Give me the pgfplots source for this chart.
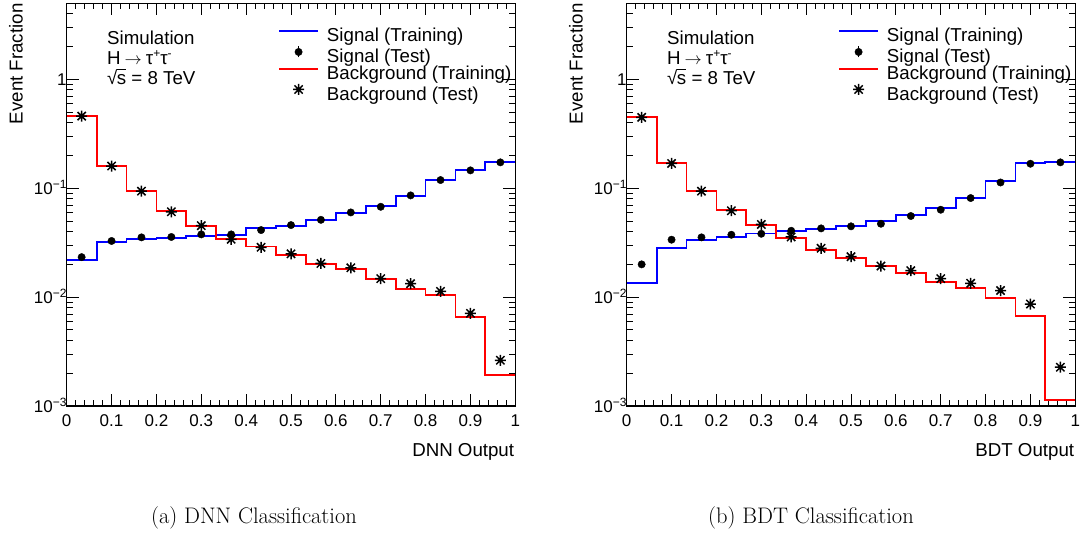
\documentclass[border=0pt]{standalone}
\usepackage{pgfplots}
\pgfplotsset{compat=1.18}
\usepackage{pgfplotstable}
\usepackage{fontspec}
\newfontfamily\rootfont{Liberation Sans}
\newcommand\tickfont{\rootfont\fontsize{17bp}{19bp}\selectfont}
\newcommand\txtfont{\rootfont\fontsize{18.7bp}{20bp}\selectfont}
\newcommand\tsup[1]{\raisebox{6bp}{\fontsize{12bp}{12bp}\selectfont #1}}
\newcommand\tsupt[1]{\raisebox{7bp}{\fontsize{12bp}{12bp}\selectfont #1}}

\pgfdeclareplotmark{rootstar}{%
  \pgfpathmoveto{\pgfqpoint{-\pgfplotmarksize}{0pt}}\pgfpathlineto{\pgfqpoint{\pgfplotmarksize}{0pt}}%
  \pgfpathmoveto{\pgfqpoint{0pt}{-\pgfplotmarksize}}\pgfpathlineto{\pgfqpoint{0pt}{\pgfplotmarksize}}%
  \pgfpathmoveto{\pgfqpoint{-0.75\pgfplotmarksize}{-0.75\pgfplotmarksize}}\pgfpathlineto{\pgfqpoint{0.75\pgfplotmarksize}{0.75\pgfplotmarksize}}%
  \pgfpathmoveto{\pgfqpoint{-0.75\pgfplotmarksize}{0.75\pgfplotmarksize}}\pgfpathlineto{\pgfqpoint{0.75\pgfplotmarksize}{-0.75\pgfplotmarksize}}%
  \pgfusepathqstroke}

\pgfplotstableread{
x sig bkg
0.0000 0.0218 0.46
0.0667 0.0321 0.161
0.1333 0.0344 0.094
0.2000 0.0351 0.0618
0.2667 0.0364 0.0453
0.3333 0.0372 0.0341
0.4000 0.0431 0.0292
0.4667 0.0453 0.0245
0.5333 0.0510 0.0203
0.6000 0.0596 0.0180
0.6667 0.0687 0.0148
0.7333 0.0853 0.0119
0.8000 0.119 0.0105
0.8667 0.148 0.0066
0.9333 0.175 0.00194
1.0000 0.175 0.00194
}\dnnhist

\pgfplotstableread{
x sig bkg
0.0333 0.0233 0.46
0.1000 0.0328 0.160
0.1667 0.0354 0.094
0.2333 0.0357 0.0608
0.3000 0.0377 0.0453
0.3667 0.0377 0.0340
0.4333 0.0413 0.0287
0.5000 0.0459 0.0250
0.5667 0.0513 0.0204
0.6333 0.0600 0.0186
0.7000 0.0676 0.0148
0.7667 0.0860 0.0133
0.8333 0.119 0.0113
0.9000 0.146 0.0071
0.9667 0.173 0.00263
}\dnnpts

\pgfplotstableread{
x sig bkg
0.0000 0.0135 0.454
0.0667 0.0282 0.170
0.1333 0.0334 0.094
0.2000 0.0357 0.063
0.2667 0.0385 0.0462
0.3333 0.0404 0.0351
0.4000 0.0425 0.0271
0.4667 0.0447 0.0227
0.5333 0.0497 0.0193
0.6000 0.0564 0.0166
0.6667 0.0654 0.0138
0.7333 0.0813 0.0121
0.8000 0.116 0.0099
0.8667 0.171 0.0067
0.9333 0.175 0.00114
1.0000 0.175 0.00114
}\bdthist

\pgfplotstableread{
x sig bkg
0.0333 0.0200 0.448
0.1000 0.0337 0.169
0.1667 0.0354 0.094
0.2333 0.0374 0.0622
0.3000 0.0382 0.0465
0.3667 0.0407 0.0357
0.4333 0.0428 0.0281
0.5000 0.0447 0.0235
0.5667 0.0472 0.0193
0.6333 0.0556 0.0175
0.7000 0.0635 0.0148
0.7667 0.0813 0.0134
0.8333 0.113 0.0115
0.9000 0.168 0.00864
0.9667 0.173 0.00227
}\bdtpts

\pgfplotsset{
  rootaxis/.style={
    scale only axis, width=448.6bp, height=402.7bp, anchor=south west,
    xmin=0, xmax=1, ymin=1e-3, ymax=5,
    xtick={0,0.1,0.2,0.3,0.4,0.5,0.6,0.7,0.8,0.9,1},
    xticklabels={0,0.1,0.2,0.3,0.4,0.5,0.6,0.7,0.8,0.9,1},
    minor x tick num=4,
    ytick={0.001,0.01,0.1,1},
    yticklabels={10\tsup{−3}\hspace{5bp},10\tsup{−2}\hspace{5bp},10\tsup{−1}\hspace{5bp},1},
    minor ytick={0.002,0.003,0.004,0.005,0.006,0.007,0.008,0.009,
                 0.02,0.03,0.04,0.05,0.06,0.07,0.08,0.09,
                 0.2,0.3,0.4,0.5,0.6,0.7,0.8,0.9,2,3,4},
    xtick pos=both, ytick pos=both, tick align=inside,
    axis line style={line width=1.5bp},
    every tick/.style={black, line width=0.9bp},
    major tick length=12bp, minor tick length=6bp,
    tick label style={font=\tickfont},
    xticklabel style={anchor=base, yshift=-20bp, inner sep=0pt},
    yticklabel style={anchor=base east, yshift=-6bp, inner sep=0pt},
    every axis x label/.style={at={(axis description cs:0.9978,-0.1259)}, anchor=base east, inner sep=0pt, font=\txtfont},
    every axis y label/.style={at={(axis description cs:-0.0981,1)}, rotate=90, anchor=base east, inner sep=0pt, font=\txtfont},
    ylabel={Event Fraction},
    legend style={draw=none, fill=none, at={(axis description cs:0.471,0.937)}, anchor=north west,
      inner sep=0pt, row sep=0bp, column sep=8bp, font=\txtfont,
      nodes={inner sep=0pt, text height=13bp, text depth=4bp}},
    legend cell align=left,
  },
  histline/.style={const plot, line width=1.8bp,
    legend image code/.code={\draw[##1] (0bp,6.5bp) -- (39bp,6.5bp);}},
  sigpts/.style={only marks, mark=*, mark size=3.7bp, black,
    legend image code/.code={\draw[black, line width=1.2bp] (19.5bp,1bp) -- (19.5bp,12bp);
      \draw[##1] plot coordinates {(19.5bp,6.5bp)}; \path (0bp,6.5bp) (39bp,6.5bp);}},
  bkgpts/.style={only marks, mark=rootstar, mark size=5.5bp, black, line width=1.5bp,
    legend image code/.code={\draw[##1] plot coordinates {(19.5bp,6.5bp)}; \path (0bp,6.5bp) (39bp,6.5bp);}},
}

\begin{document}
\begin{tikzpicture}
\path[use as bounding box] (0bp,0bp) rectangle (1083bp,536bp);

\begin{semilogyaxis}[rootaxis, at={(66.7bp,130bp)}, xlabel={DNN Output}]
\addplot[histline, blue] table[x=x, y=sig] {\dnnhist};
\addlegendentry{Signal (Training)}
\addplot[sigpts] table[x=x, y=sig] {\dnnpts};
\addlegendentry{Signal (Test)}
\addplot[histline, red] table[x=x, y=bkg] {\dnnhist};
\addlegendentry{Background (Training)}
\addplot[bkgpts] table[x=x, y=bkg] {\dnnpts};
\addlegendentry{Background (Test)}
\end{semilogyaxis}

\begin{semilogyaxis}[rootaxis, at={(626.7bp,130bp)}, xlabel={BDT Output}]
\addplot[histline, blue] table[x=x, y=sig] {\bdthist};
\addlegendentry{Signal (Training)}
\addplot[sigpts] table[x=x, y=sig] {\bdtpts};
\addlegendentry{Signal (Test)}
\addplot[histline, red] table[x=x, y=bkg] {\bdthist};
\addlegendentry{Background (Training)}
\addplot[bkgpts] table[x=x, y=bkg] {\bdtpts};
\addlegendentry{Background (Test)}
\end{semilogyaxis}

\foreach \xx in {107,667}{
  \node[anchor=base west, inner sep=0pt, font=\txtfont] at (\xx bp,491.7bp) {Simulation};
  \node[anchor=base west, inner sep=0pt, font=\txtfont] at (\xx bp,471.7bp) {H\hspace{4bp}$\rightarrow$\hspace{4bp}τ\tsupt{+}τ\tsupt{-}};
  \node[anchor=base west, inner sep=0pt, font=\txtfont] at (\xx bp,451.7bp) {√\kern-0.5bp\rlap{\rule[14bp]{9bp}{0.9bp}}s = 8 TeV};
}

\node[anchor=base, inner sep=0pt, font=\fontsize{22.5bp}{25bp}\selectfont] at (254bp,13bp) {(a) DNN Classification};
\node[anchor=base, inner sep=0pt, font=\fontsize{22.5bp}{25bp}\selectfont] at (811bp,13bp) {(b) BDT Classification};
\end{tikzpicture}
\end{document}
